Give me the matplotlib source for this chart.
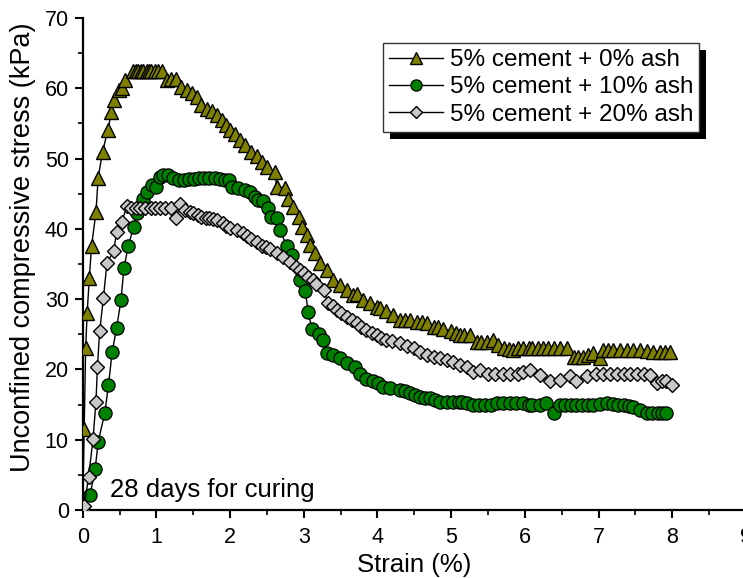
import matplotlib
matplotlib.use("Agg")
import matplotlib.pyplot as plt
from matplotlib.patches import Rectangle
from matplotlib.ticker import MultipleLocator

plt.rcParams['font.family'] = ['Liberation Sans', 'DejaVu Sans']

# ---- data ----
strain_a = [0, 0.02, 0.04, 0.06, 0.09, 0.12, 0.18, 0.21, 0.27, 0.34, 0.39, 0.43, 0.49, 0.53,
            0.58, 0.68, 0.72, 0.75, 0.79, 0.82, 0.87, 0.90, 0.93, 0.98, 1.02, 1.07, 1.14, 1.2,
            1.27, 1.34, 1.41, 1.48, 1.55, 1.61, 1.68, 1.75, 1.82, 1.89, 1.95, 2.0, 2.07,
            2.13, 2.2, 2.29, 2.36, 2.43, 2.5, 2.61, 2.63, 2.74, 2.79, 2.86, 2.93, 2.97, 3.04,
            3.08, 3.15, 3.22, 3.31, 3.4, 3.49, 3.58, 3.67, 3.72, 3.81, 3.9, 3.99, 4.03, 4.12,
            4.21, 4.3, 4.37, 4.44, 4.53, 4.6, 4.67, 4.76, 4.82, 4.89, 5.0, 5.06, 5.12, 5.18,
            5.25, 5.35, 5.41, 5.48, 5.57, 5.64, 5.71, 5.78, 5.84, 5.91, 5.98, 6.05, 6.1, 6.18,
            6.25, 6.32, 6.4, 6.48, 6.57, 6.66, 6.72, 6.79, 6.86, 6.93, 7.02, 7.06, 7.13, 7.2,
            7.29, 7.38, 7.47, 7.56, 7.65, 7.74, 7.83, 7.9, 7.97]
stress_a = [0, 11.5, 23, 28, 33, 37.5, 42.4, 47.3, 51, 54, 56.6, 58.3, 59.8, 60.0,
            61.2, 62.4, 62.4, 62.4, 62.4, 62.4, 62.4, 62.4, 62.4, 62.4, 62.4, 62.4, 61.2, 61.3,
            61.3, 60.2, 59.7, 59.3, 58.8, 57.6, 57.1, 56.7, 56.2, 55.5, 54.8, 54.1, 53.5,
            52.6, 51.9, 51.0, 50.3, 49.5, 48.8, 48.1, 46.0, 45.8, 44.3, 43.1, 41.7, 40.3, 39.1,
            37.7, 36.5, 35.1, 34.1, 32.7, 32.0, 31.3, 30.6, 30.8, 29.9, 29.4, 28.9, 28.7, 28.3,
            27.7, 27.0, 27.0, 27.0, 26.8, 26.7, 26.6, 26.1, 26.0, 25.8, 25.4, 25.2, 24.9, 24.9,
            24.9, 23.9, 23.9, 23.9, 24.2, 23.5, 23.0, 22.9, 22.8, 23.0, 23.0, 23.0, 23.0, 23.0,
            23.0, 23.0, 23.0, 23.0, 23.0, 21.8, 21.8, 21.8, 22.0, 22.3, 21.6, 22.8, 22.8, 22.8,
            22.8, 22.8, 22.8, 22.8, 22.6, 22.5, 22.5, 22.5, 22.5]

strain_b = [0, 0.1, 0.17, 0.21, 0.3, 0.35, 0.4, 0.46, 0.52, 0.56, 0.62, 0.69, 0.73, 0.82,
            0.87, 0.94, 1.0, 1.05, 1.09, 1.16, 1.23, 1.3, 1.37, 1.44, 1.51, 1.58, 1.65, 1.72,
            1.79, 1.86, 1.93, 1.98, 2.02, 2.11, 2.2, 2.27, 2.34, 2.38, 2.45, 2.52, 2.56, 2.63,
            2.68, 2.77, 2.84, 2.95, 3.02, 3.06, 3.11, 3.2, 3.26, 3.31, 3.4, 3.49, 3.58, 3.69,
            3.76, 3.85, 3.94, 4.01, 4.08, 4.17, 4.3, 4.37, 4.44, 4.51, 4.58, 4.65, 4.71, 4.78,
            4.85, 4.94, 5.03, 5.1, 5.15, 5.22, 5.3, 5.38, 5.46, 5.54, 5.62, 5.7, 5.8, 5.88,
            5.98, 6.05, 6.1, 6.2, 6.29, 6.39, 6.47, 6.55, 6.62, 6.7, 6.78, 6.86, 6.93, 7.02,
            7.11, 7.2, 7.27, 7.34, 7.41, 7.47, 7.56, 7.65, 7.72, 7.8, 7.86, 7.92]
stress_b = [0, 2.1, 5.9, 9.7, 13.8, 17.8, 22.5, 25.9, 29.9, 34.5, 37.6, 40.3, 42.2, 44.3,
            45.3, 46.2, 46.0, 47.4, 47.7, 47.7, 47.2, 46.9, 47.0, 47.1, 47.1, 47.2, 47.2, 47.2,
            47.2, 47.1, 46.9, 46.9, 46.0, 45.8, 45.5, 45.3, 44.6, 44.1, 43.9, 42.9, 41.7, 41.5,
            39.8, 37.5, 36.3, 32.7, 31.1, 28.2, 25.8, 25.1, 24.2, 22.3, 22.0, 21.6, 20.9, 20.4,
            19.4, 18.7, 18.3, 18.0, 17.5, 17.3, 17.1, 16.9, 16.6, 16.3, 16.1, 16.0, 15.9, 15.6,
            15.4, 15.4, 15.4, 15.4, 15.4, 15.2, 14.9, 14.9, 14.9, 15.0, 15.2, 15.2, 15.2, 15.2,
            15.2, 15.0, 14.9, 14.9, 15.2, 13.8, 14.9, 14.9, 14.9, 14.9, 14.9, 14.9, 14.9, 15.1,
            15.2, 15.1, 14.9, 14.9, 14.8, 14.7, 14.2, 13.8, 13.8, 13.8, 13.8, 13.8]

strain_c = [0, 0.02, 0.08, 0.14, 0.18, 0.2, 0.23, 0.28, 0.33, 0.42, 0.46, 0.53, 0.6, 0.66,
            0.72, 0.78, 0.85, 0.92, 0.98, 1.05, 1.12, 1.2, 1.27, 1.32, 1.39, 1.45, 1.5, 1.56,
            1.61, 1.67, 1.72, 1.77, 1.82, 1.9, 1.95, 2.0, 2.09, 2.18, 2.23, 2.29, 2.36, 2.43,
            2.49, 2.54, 2.63, 2.72, 2.81, 2.9, 2.95, 3.0, 3.06, 3.12, 3.17, 3.27, 3.33, 3.39,
            3.45, 3.51, 3.58, 3.65, 3.72, 3.78, 3.85, 3.92, 3.99, 4.05, 4.12, 4.2, 4.31, 4.4,
            4.49, 4.58, 4.67, 4.76, 4.85, 4.94, 5.03, 5.12, 5.21, 5.3, 5.39, 5.5, 5.6, 5.7,
            5.8, 5.9, 5.98, 6.07, 6.2, 6.34, 6.47, 6.61, 6.7, 6.84, 6.97, 7.06, 7.16, 7.25,
            7.34, 7.43, 7.52, 7.61, 7.7, 7.79, 7.86, 7.92, 8.0]
stress_c = [0, 0.5, 4.7, 10.1, 15.4, 20.4, 25.4, 30.1, 35.2, 36.8, 39.6, 41.0, 43.2, 43.0,
            43.0, 42.9, 42.9, 43.0, 43.0, 42.9, 43.0, 42.9, 41.5, 43.6, 42.7, 42.4, 42.2, 42.0,
            41.7, 41.6, 41.5, 41.4, 41.3, 40.8, 40.4, 40.1, 39.8, 39.4, 39.0, 38.6, 38.2, 37.5,
            37.4, 37.2, 36.5, 36.0, 35.3, 34.6, 34.1, 33.7, 33.2, 32.7, 32.2, 31.3, 29.4, 29.0,
            28.4, 28.0, 27.5, 27.1, 26.6, 26.1, 25.6, 25.2, 24.9, 24.5, 24.2, 24.0, 23.7, 23.3,
            23.0, 22.5, 22.0, 21.8, 21.6, 21.3, 21.1, 20.6, 20.4, 19.7, 19.9, 19.4, 19.4, 19.4,
            19.4, 19.4, 19.6, 19.9, 19.2, 18.3, 18.5, 19.0, 18.3, 19.0, 19.4, 19.4, 19.4, 19.4,
            19.4, 19.4, 19.4, 19.3, 19.2, 18.0, 18.3, 18.3, 17.8]

labels = ['5% cement + 0% ash', '5% cement + 10% ash', '5% cement + 20% ash']
x_ticks = [0, 1, 2, 3, 4, 5, 6, 7, 8, 9]
y_ticks = [0, 10, 20, 30, 40, 50, 60, 70]

# ---- figure ----
W, H = 743, 578
fig = plt.figure(figsize=(W / 100, H / 100), dpi=100)
ax = fig.add_axes([82.7 / W, (H - 510) / H, 663.3 / W, 492 / H])

ax.plot(strain_a, stress_a, color='black', lw=1.0, marker='^', markersize=10.5,
        markerfacecolor='#808000', markeredgecolor='black', markeredgewidth=1.0,
        label=labels[0], zorder=3)
ax.plot(strain_b, stress_b, color='black', lw=1.0, marker='o', markersize=9.5,
        markerfacecolor='#008000', markeredgecolor='black', markeredgewidth=0.9,
        label=labels[1], zorder=3)
ax.plot(strain_c, stress_c, color='black', lw=1.0, marker='D', markersize=6.8,
        markerfacecolor='#c8c8c8', markeredgecolor='black', markeredgewidth=1.0,
        label=labels[2], zorder=3)

ax.set_xlim(0, 9)
ax.set_ylim(0, 70)
ax.set_xticks(x_ticks)
ax.set_yticks(y_ticks)
ax.xaxis.set_minor_locator(MultipleLocator(0.5))
ax.yaxis.set_minor_locator(MultipleLocator(5))
ax.spines['top'].set_visible(False)
ax.spines['right'].set_visible(False)
for s in ('left', 'bottom'):
    ax.spines[s].set_linewidth(1.6)
ax.tick_params(which='major', direction='out', length=6, width=1.5, labelsize=15.5)
ax.tick_params(axis='x', which='major', pad=6)
ax.tick_params(axis='y', which='major', pad=4)
ax.tick_params(which='minor', direction='out', length=3.5, width=1.2)

ax.set_xlabel('Strain (%)', fontsize=18.5, labelpad=4)
ax.set_ylabel('Unconfined compressive stress (kPa)', fontsize=19.5)
ax.yaxis.set_label_coords(-0.071, 0.535)

ax.text(0.37, 2.8, '28 days for curing', fontsize=18.5, va='center', ha='left')

leg = ax.legend(loc='upper left', bbox_to_anchor=(383 / W, 1 - 43 / H),
                bbox_transform=fig.transFigure, borderaxespad=0, fontsize=17.5,
                frameon=True, fancybox=False, framealpha=1, edgecolor='#333333',
                handlelength=2.2, handletextpad=0.3, labelspacing=0.22,
                borderpad=0.25, markerscale=0.85)
leg.get_frame().set_linewidth(1.0)
leg.set_zorder(10)

fig.canvas.draw()
bb = leg.get_window_extent()
shadow = Rectangle((bb.x0 + 7, bb.y0 - 7), bb.width, bb.height, transform=None,
                   facecolor='black', edgecolor='none', zorder=9)
ax.add_artist(shadow)

fig.savefig('out.png', dpi=100)
